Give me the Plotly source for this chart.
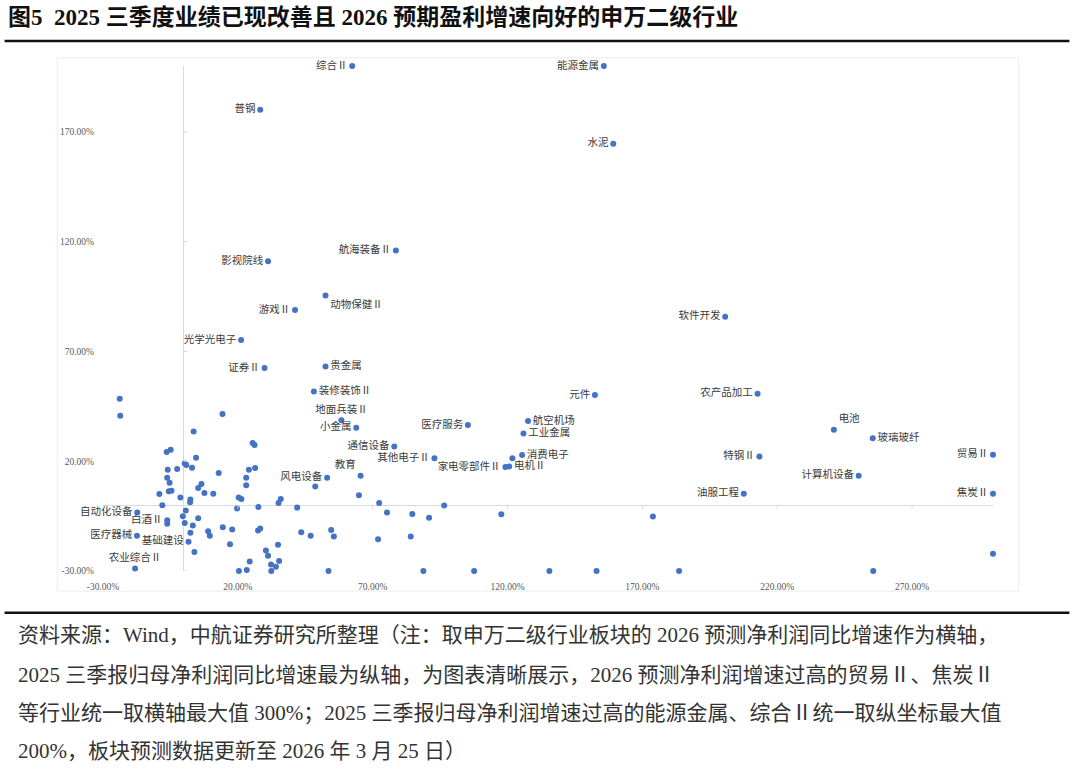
import plotly.graph_objects as go

# ---------------- data ----------------
# labelled industries: 2026E net profit growth (x, %) and 2025Q3 YoY growth (y, %)
labeled_names = ["综合Ⅱ", "能源金属", "普钢", "水泥", "航海装备Ⅱ", "影视院线", "动物保健Ⅱ", "游戏Ⅱ",
                 "光学光电子", "证券Ⅱ", "贵金属", "装修装饰Ⅱ", "地面兵装Ⅱ", "小金属", "医疗服务",
                 "通信设备", "其他电子Ⅱ", "教育", "风电设备", "家电零部件Ⅱ", "电机Ⅱ", "消费电子",
                 "工业金属", "航空机场", "元件", "农产品加工", "软件开发", "电池", "玻璃玻纤", "特钢Ⅱ",
                 "贸易Ⅱ", "计算机设备", "油服工程", "焦炭Ⅱ", "自动化设备", "白酒Ⅱ", "医疗器械",
                 "基础建设", "农业综合Ⅱ"]
labeled_x = [62.4, 155.7, 28.3, 159.2, 78.6, 31.2, 52.5, 41.2,
             21.2, 29.9, 52.5, 48.2, 58.4, 63.9, 105.3,
             78.0, 92.9, 65.5, 53.1, 119.2, 120.6, 125.4,
             125.9, 127.6, 152.4, 212.7, 200.7, 241.0, 255.4, 213.4,
             300.0, 250.2, 207.6, 300.0, -17.3, -6.2, -17.4,
             1.7, -18.1]
labeled_y = [200.0, 200.0, 180.1, 164.6, 116.0, 111.1, 95.5, 88.9,
             75.2, 62.4, 63.1, 51.7, 38.7, 35.2, 36.5,
             26.7, 21.3, 13.4, 12.5, 17.4, 17.6, 22.8,
             32.6, 38.3, 50.2, 50.7, 85.8, 34.3, 30.5, 22.2,
             23.0, 13.4, 5.2, 5.2, -3.3, -6.9, -14.0,
             -16.7, -28.9]

# unlabelled industries
other_x = [-23.8, -23.6, 14.3, 3.6, -6.4, -4.9, 4.5, 0.3, 0.9, 3.0, -6.0, -2.5, 24.1, 12.9,
           23.1, -6.2, -5.3, 6.5, 5.3, 23.1, -5.6, -4.6, -9.1, 7.6, 10.9, -1.3, 2.4, 2.3,
           20.3, 21.3, -8.0, 0.7, 19.7, -0.4, 5.3, -6.2, 0.3, 3.3, 14.4, 17.9, 9.0, 2.4,
           9.6, 17.1, 3.9, 24.4, 20.4, 23.3, 121.8,
           25.5, 26.2, 26.4, 48.7, 64.9, 35.9, 35.1, 27.6, 42.0, 72.4, 75.3, 84.7, 90.9,
           96.5, 117.7, 27.5, 28.3, 43.5, 47.0, 54.6, 55.6, 72.0, 84.1, 34.9, 30.4, 31.2,
           35.3, 32.3, 34.1, 32.4, 53.6, 88.8, 107.6,
           135.5, 153.0, 183.6, 255.6, 173.9, 300.0]
other_y = [48.4, 40.7, 41.5, 33.5, 24.2, 25.2, 21.6, 19.0, 18.3, 17.0, 16.1, 16.5, 16.1, 14.6,
           12.5, 12.5, 10.2, 9.6, 7.8, 9.0, 6.3, 6.6, 5.1, 5.5, 5.2, 3.5, 2.6, 1.3,
           3.5, 2.8, -0.1, -2.5, -1.5, -5.1, -6.0, -8.5, -8.1, -9.3, -10.1, -11.1, -11.9, -12.6,
           -13.9, -17.8, -21.3, -25.7, -30.0, -29.6, 21.3,
           28.3, 27.4, 16.9, 8.5, 4.5, 2.8, 1.0, -0.8, -1.1, 1.0, -3.4, -4.0, -5.7,
           -0.2, -4.2, -11.5, -10.7, -12.4, -14.0, -11.3, -14.3, -15.5, -14.3, -18.1, -20.7, -23.0,
           -25.4, -27.0, -28.1, -30.0, -30.0, -30.0, -30.0,
           -30.0, -30.0, -30.0, -30.0, -5.2, -22.2]

x_ticks = [-30, 20, 70, 120, 170, 220, 270]
y_ticks = [-30, 20, 70, 120, 170]
x_range = [-30, 300]
y_range = [-30, 200]

title_text = "图5  2025 三季度业绩已现改善且 2026 预期盈利增速向好的申万二级行业"
note_lines = [
    "资料来源：Wind，中航证券研究所整理（注：取申万二级行业板块的 2026 预测净利润同比增速作为横轴，",
    "2025 三季报归母净利润同比增速最为纵轴，为图表清晰展示，2026 预测净利润增速过高的贸易Ⅱ、焦炭Ⅱ",
    "等行业统一取横轴最大值 300%；2025 三季报归母净利润增速过高的能源金属、综合Ⅱ统一取纵坐标最大值",
    "200%，板块预测数据更新至 2026 年 3 月 25 日）",
]

# ---------------- styles ----------------
label_pos = {
    "动物保健Ⅱ": "bottom right", "贵金属": "middle right", "装修装饰Ⅱ": "middle right",
    "地面兵装Ⅱ": "top center", "教育": "top left", "电机Ⅱ": "middle right",
    "消费电子": "middle right", "工业金属": "middle right", "航空机场": "middle right",
    "电池": "top right", "玻璃玻纤": "middle right", "农业综合Ⅱ": "top center",
}
W, H = 1080, 770
ML, MR, MT, MB = 102.5, 86.5, 65.5, 198.5
PW, PH = W - ML - MR, H - MT - MB


def px(xp):
    return (xp - ML) / PW


def py(yp):
    return (H - MB - yp) / PH


BLUE = "#4472C4"
SERIF = "Liberation Serif, Noto Sans CJK SC"

fig = go.Figure()
fig.add_trace(go.Scatter(
    x=other_x, y=other_y, mode="markers",
    marker=dict(color=BLUE, size=6), cliponaxis=False, hoverinfo="x+y", showlegend=False))
fig.add_trace(go.Scatter(
    x=labeled_x, y=labeled_y, mode="markers+text", text=labeled_names,
    textposition=[label_pos.get(n, "middle left") for n in labeled_names],
    textfont=dict(family=SERIF, size=10.5, color="#3a3a3a"),
    marker=dict(color=BLUE, size=6), cliponaxis=False, showlegend=False))

axis_common = dict(showgrid=False, zeroline=True, zerolinecolor="#d9d9d9", zerolinewidth=1,
                   showline=False, ticks="",
                   tickfont=dict(family=SERIF, size=9.5, color="#595959"))
fig.update_xaxes(range=x_range, tickvals=x_ticks, ticktext=[f"{v:.2f}%" for v in x_ticks],
                 ticklabelstandoff=8, **axis_common)
fig.update_yaxes(range=y_range, tickvals=y_ticks, ticktext=[f"{v:.2f}%" for v in y_ticks],
                 ticklabelstandoff=8, **axis_common)

shapes = [
    # chart-area border
    dict(type="rect", xref="paper", yref="paper", x0=px(56.7), x1=px(1019.3), y0=py(591.7), y1=py(57.3),
         line=dict(color="#ececec", width=1), layer="below"),
    # heavy rules
    dict(type="line", xref="paper", yref="paper", x0=px(4), x1=px(1070), y0=py(40.5), y1=py(40.5),
         line=dict(color="#111111", width=2.5)),
    dict(type="line", xref="paper", yref="paper", x0=px(4), x1=px(1070), y0=py(613.3), y1=py(613.3),
         line=dict(color="#111111", width=2.5)),
]
# small tick marks on the zero axes
for v in x_ticks:
    if v != 0:
        shapes.append(dict(type="line", xref="x", yref="y", x0=v, x1=v, y0=0, y1=-1.6,
                           line=dict(color="#d9d9d9", width=1)))
for v in y_ticks:
    shapes.append(dict(type="line", xref="x", yref="y", x0=0, x1=1.3, y0=v, y1=v,
                       line=dict(color="#d9d9d9", width=1)))

annotations = [dict(text=f"<b>{title_text}</b>", xref="paper", yref="paper", x=px(5), y=py(17),
                    xanchor="left", yanchor="middle", showarrow=False,
                    font=dict(family=SERIF, size=23, color="#111111"))]
for line, yy in zip(note_lines, [636, 676, 714, 752]):
    annotations.append(dict(text=line, xref="paper", yref="paper", x=px(15), y=py(yy),
                            xanchor="left", yanchor="middle", showarrow=False,
                            font=dict(family=SERIF, size=21, color="#333333")))

fig.update_layout(width=W, height=H, margin=dict(l=ML, r=MR, t=MT, b=MB, autoexpand=False),
                  paper_bgcolor="white", plot_bgcolor="white",
                  shapes=shapes, annotations=annotations)

fig.write_html("out.html", config={"displayModeBar": False},
               post_script="document.body.style.margin='0';document.body.style.overflow='hidden';")
